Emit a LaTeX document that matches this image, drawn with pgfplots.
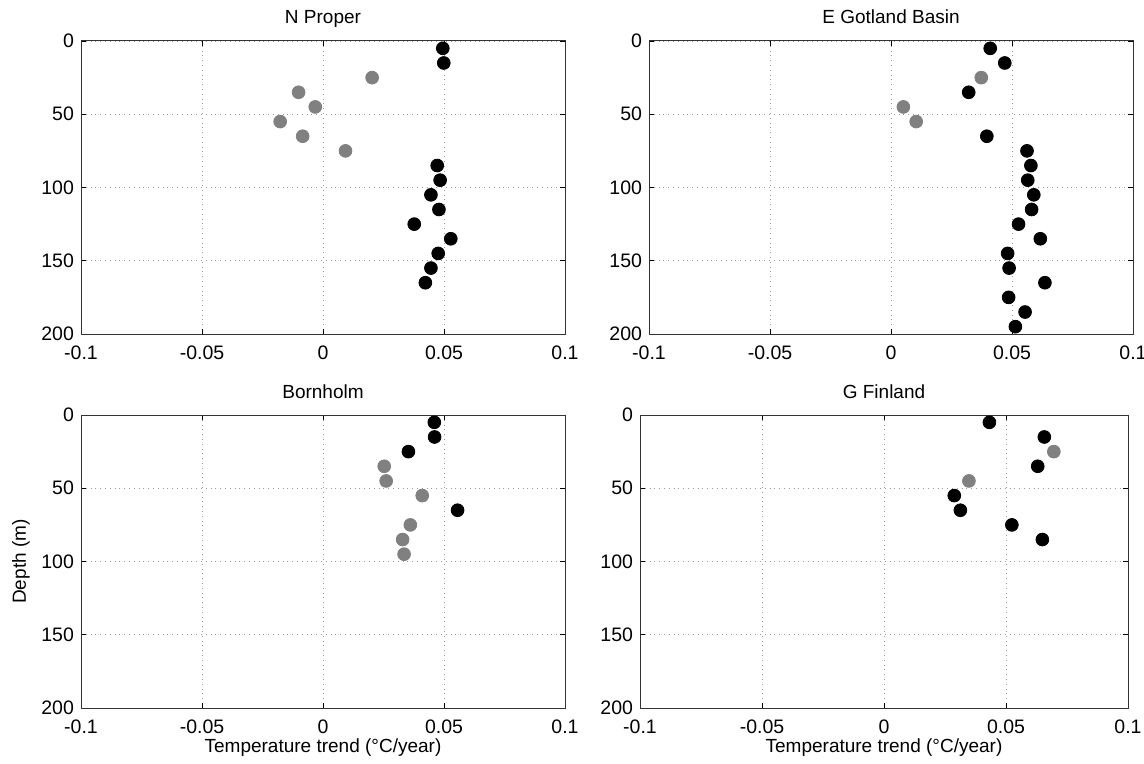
\documentclass[border=0pt]{standalone}
\usepackage{fontspec}
\setmainfont{Liberation Sans}
\usepackage{pgfplots}
\pgfplotsset{compat=1.18}
\definecolor{dg}{RGB}{128,128,128}
\newcommand{\fs}{\fontsize{9.5}{11}\selectfont}
\newcommand{\ft}{\fontsize{9.75}{11}\selectfont}
\begin{document}
\begin{tikzpicture}[x=1pt,y=1pt]
\useasboundingbox (0,0) rectangle (572,-382);
\pgfplotsset{
  panel/.style={
    scale only axis, width=242pt, height=146.5pt,
    anchor=south west,
    xmin=-0.1,xmax=0.1,ymin=0,ymax=200,y dir=reverse,
    xtick={-0.1,-0.05,0,0.05,0.1}, xticklabels={-0.1,-0.05,0,0.05,0.1},
    ytick={0,50,100,150,200}, yticklabels={0,50,100,150,200},
    grid=major, major grid style={dotted, gray!80, line width=0.4pt},
    tick align=inside, major tick length=2.5pt, tick pos=both,
    tick style={black, line width=0.4pt},
    axis line style={line width=0.5pt, black!80},
    every tick label/.append style={font=\ft},
    xticklabel style={yshift=-2.5pt},
    title style={at={(0.5,1)}, anchor=base, yshift=2.5pt, font=\fs},
    label style={font=\fs},
    xlabel style={at={(axis description cs:0.5,0)}, anchor=base, yshift=-22pt},
    ylabel style={at={(axis description cs:-0.124,0.5)}, anchor=center},
  },
  blk/.style={only marks, mark=*, mark size=3.2pt, mark options={draw=black, fill=black}},
  gry/.style={only marks, mark=*, mark size=3.2pt, mark options={draw=dg, fill=dg}},
}
% N Proper
\begin{axis}[panel, at={(40.5pt,-167pt)}, title={N Proper}]
\addplot[gry] coordinates {(0.0203,25) (-0.0101,35) (-0.0032,45) (-0.0177,55) (-0.0084,65) (0.0093,75)};
\addplot[blk] coordinates {(0.0495,5) (0.0499,15) (0.0472,85) (0.0484,95) (0.0446,105) (0.0479,115) (0.0377,125) (0.0528,135) (0.0476,145) (0.0446,155) (0.0423,165)};
\end{axis}
% E Gotland Basin
\begin{axis}[panel, at={(324.5pt,-167pt)}, title={E Gotland Basin}]
\addplot[gry] coordinates {(0.0373,25) (0.0051,45) (0.0104,55)};
\addplot[blk] coordinates {(0.041,5) (0.047,15) (0.0321,35) (0.0396,65) (0.0562,75) (0.0578,85) (0.0565,95) (0.059,105) (0.0581,115) (0.0527,125) (0.0617,135) (0.0482,145) (0.0488,155) (0.0636,165) (0.0486,175) (0.0554,185) (0.0514,195)};
\end{axis}
% Bornholm
\begin{axis}[panel, at={(40.5pt,-354pt)}, title={Bornholm}, xlabel={Temperature trend (°C/year)}, ylabel={Depth (m)}]
\addplot[gry] coordinates {(0.0253,35) (0.0261,45) (0.041,55) (0.0361,75) (0.0329,85) (0.0335,95)};
\addplot[blk] coordinates {(0.046,5) (0.0461,15) (0.0353,25) (0.0556,65)};
\end{axis}
% G Finland
\begin{axis}[panel, at={(320pt,-354pt)}, width=244pt, title={G Finland}, xlabel={Temperature trend (°C/year)}]
\addplot[gry] coordinates {(0.0696,25) (0.0348,45)};
\addplot[blk] coordinates {(0.0432,5) (0.0657,15) (0.0630,35) (0.0288,55) (0.0313,65) (0.0524,75) (0.0649,85)};
\end{axis}
\end{tikzpicture}
\end{document}
